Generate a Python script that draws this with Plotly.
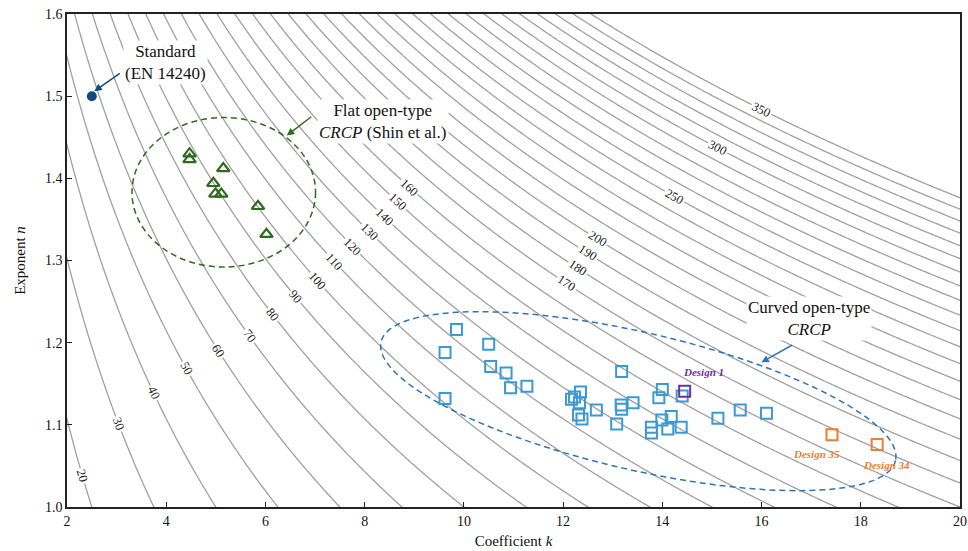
import math
import numpy as np
import plotly.graph_objects as go

# ---------------- data ----------------
DELTA_T = 8.0                       # temperature difference for isolines Q = k * dT^n
CONTOUR_START, CONTOUR_END, CONTOUR_STEP = 20, 350, 10

LABEL_Q = [20, 30, 40, 50, 60, 70, 80, 90, 100, 110, 120, 130, 140, 150, 160,
           170, 180, 190, 200, 250, 300, 350]
LABEL_K = [2.31, 3.04, 3.75, 4.40, 5.05, 5.68, 6.15, 6.61, 7.05, 7.39, 7.76, 8.10,
           8.40, 8.67, 8.91, 12.06, 12.30, 12.50, 12.70, 14.25, 15.12, 16.00]

std_k = [2.5]
std_n = [1.5]

flat_k = [4.47, 4.47, 5.15, 4.95, 4.99, 5.11, 5.85, 6.02]
flat_n = [1.430, 1.423, 1.412, 1.394, 1.381, 1.381, 1.366, 1.332]

curved_k = [9.85, 9.62, 9.62, 10.50, 10.54, 10.85, 10.94, 11.27, 12.17, 12.23, 12.35,
            12.33, 12.31, 12.38, 12.67, 13.18, 13.17, 13.18, 13.41, 13.08, 13.78,
            13.78, 14.00, 13.93, 14.40, 13.99, 14.18, 14.11, 14.38, 15.12, 15.57, 16.10]
curved_n = [1.216, 1.188, 1.132, 1.198, 1.171, 1.163, 1.145, 1.147, 1.131, 1.134, 1.140,
            1.127, 1.112, 1.107, 1.118, 1.165, 1.124, 1.119, 1.127, 1.101, 1.097,
            1.090, 1.143, 1.133, 1.135, 1.106, 1.110, 1.095, 1.097, 1.108, 1.118, 1.114]

design1_k, design1_n = [14.45], [1.141]
design3x_k = [17.42, 18.33]
design3x_n = [1.088, 1.076]

# ---------------- layout geometry ----------------
W, H = 968, 551
ML, MR, MT, MB = 67, 8, 14, 44
XR = (2, 20)
YR = (1.0, 1.6)
PX_K = (W - ML - MR) / (XR[1] - XR[0])
PX_N = (H - MT - MB) / (YR[1] - YR[0])

SERIF = "Liberation Serif, Times New Roman, serif"
GRAY = "#a0a0a0"
BLUE = "#3b9ad4"
GREEN = "#2f6b1f"
DARKBLUE = "#114d7c"
ORANGE = "#ed7d31"
PURPLE = "#7030a0"

fig = go.Figure()

# isolines of heat output
kg = np.linspace(1.8, 20.2, 300)
ng = np.linspace(0.98, 1.62, 300)
Z = kg[None, :] * DELTA_T ** ng[:, None]
fig.add_trace(go.Contour(
    x=kg, y=ng, z=Z,
    contours=dict(start=CONTOUR_START, end=CONTOUR_END, size=CONTOUR_STEP,
                  coloring="lines", showlabels=False),
    colorscale=[[0, GRAY], [1, GRAY]], showscale=False,
    line=dict(width=1.3), hoverinfo="skip"))

fig.add_trace(go.Scatter(x=curved_k, y=curved_n, mode="markers",
                         marker=dict(symbol="square-open", size=11, color=BLUE,
                                     line=dict(width=2, color=BLUE))))
fig.add_trace(go.Scatter(x=design1_k, y=design1_n, mode="markers",
                         marker=dict(symbol="square-open", size=11, color=PURPLE,
                                     line=dict(width=2, color=PURPLE))))
fig.add_trace(go.Scatter(x=design3x_k, y=design3x_n, mode="markers",
                         marker=dict(symbol="square-open", size=11, color=ORANGE,
                                     line=dict(width=2, color=ORANGE))))
fig.add_trace(go.Scatter(x=flat_k, y=flat_n, mode="markers",
                         marker=dict(symbol="triangle-up-open", size=11, color=GREEN,
                                     line=dict(width=2.2, color=GREEN))))
fig.add_trace(go.Scatter(x=std_k, y=std_n, mode="markers",
                         marker=dict(symbol="circle", size=10, color=DARKBLUE)))

annotations = []
# contour labels
ln = math.log(DELTA_T)
for q, k in zip(LABEL_Q, LABEL_K):
    n = math.log(q / k) / ln
    ang = math.degrees(math.atan((PX_N / (k * ln)) / PX_K))
    annotations.append(dict(x=k, y=n, text=str(q), showarrow=False, textangle=ang,
                            font=dict(family=SERIF, size=12.5, color="#222"),
                            bgcolor="white", borderpad=1))

# callouts
annotations += [
    dict(x=2.55, y=1.506, ax=27, ay=-19, showarrow=True, arrowhead=2, arrowsize=1,
         arrowwidth=1.5, arrowcolor=DARKBLUE, text=""),
    dict(x=3.99, y=1.541, text="Standard<br>(EN 14240)", showarrow=False,
         font=dict(family=SERIF, size=17, color="#111"), bgcolor="white", borderpad=1),
    dict(x=6.43, y=1.452, ax=26, ay=-20, showarrow=True, arrowhead=2, arrowsize=1,
         arrowwidth=1.5, arrowcolor=GREEN, text=""),
    dict(x=8.37, y=1.469, text="Flat open-type<br><i>CRCP</i> (Shin et al.)", showarrow=False,
         font=dict(family=SERIF, size=17, color="#111"), bgcolor="white", borderpad=1),
    dict(x=15.996, y=1.176, ax=32, ay=-18, showarrow=True, arrowhead=2, arrowsize=1,
         arrowwidth=1.5, arrowcolor="#2e75b6", text=""),
    dict(x=16.95, y=1.230, text="Curved open-type<br><i>CRCP</i>", showarrow=False,
         font=dict(family=SERIF, size=17, color="#111"), bgcolor="white", borderpad=1),
    dict(x=14.82, y=1.164, text="<b><i>Design 1</i></b>", showarrow=False,
         font=dict(family=SERIF, size=11, color=PURPLE)),
    dict(x=17.1, y=1.064, text="<b><i>Design 35</i></b>", showarrow=False,
         font=dict(family=SERIF, size=11, color=ORANGE)),
    dict(x=18.51, y=1.051, text="<b><i>Design 34</i></b>", showarrow=False,
         font=dict(family=SERIF, size=11, color=ORANGE)),
]

# curved-type dashed ellipse (rotated, drawn in screen proportions)
ck = 2 + (638.3 - ML) / PX_K
cn = 1 + (H - MB - 401.2) / PX_N
A, B, TH = 264.0, 68.7, math.radians(13.0)
pts = []
for t in np.linspace(0, 2 * math.pi, 121):
    dx = A * math.cos(t) * math.cos(TH) - B * math.sin(t) * math.sin(TH)
    dy = A * math.cos(t) * math.sin(TH) + B * math.sin(t) * math.cos(TH)
    pts.append((ck + dx / PX_K, cn - dy / PX_N))
path = "M " + " L ".join(f"{x:.4f},{y:.5f}" for x, y in pts) + " Z"

shapes = [
    dict(type="circle", xref="x", yref="y", x0=3.31, x1=7.01, y0=1.292, y1=1.474,
         line=dict(color=GREEN, width=1.5, dash="6px,4px")),
    dict(type="path", xref="x", yref="y", path=path,
         line=dict(color="#2e75b6", width=1.5, dash="6px,4px")),
]

fig.update_layout(
    width=W, height=H, margin=dict(l=ML, r=MR, t=MT, b=MB),
    paper_bgcolor="white", plot_bgcolor="white", showlegend=False,
    font=dict(family=SERIF, size=14, color="#111"),
    annotations=annotations, shapes=shapes,
    xaxis=dict(range=list(XR), tickvals=list(range(2, 21, 2)), showgrid=False,
               zeroline=False, showline=True, linecolor="#222", linewidth=1.5,
               mirror=True, ticks="inside", ticklen=5, tickcolor="#222", automargin=False,
               title=dict(text="Coefficient <i>k</i>", font=dict(size=15), standoff=8)),
    yaxis=dict(range=list(YR), dtick=0.1, tickformat=".1f", showgrid=False,
               zeroline=False, showline=True, linecolor="#222", linewidth=1.5,
               mirror=True, ticks="inside", ticklen=5, tickcolor="#222", automargin=False,
               title=dict(text="Exponent <i>n</i>", font=dict(size=15), standoff=16)),
)

fig.write_html("out.html", config={"displayModeBar": False},
               post_script="document.body.style.margin='0';document.body.style.overflow='hidden';")
